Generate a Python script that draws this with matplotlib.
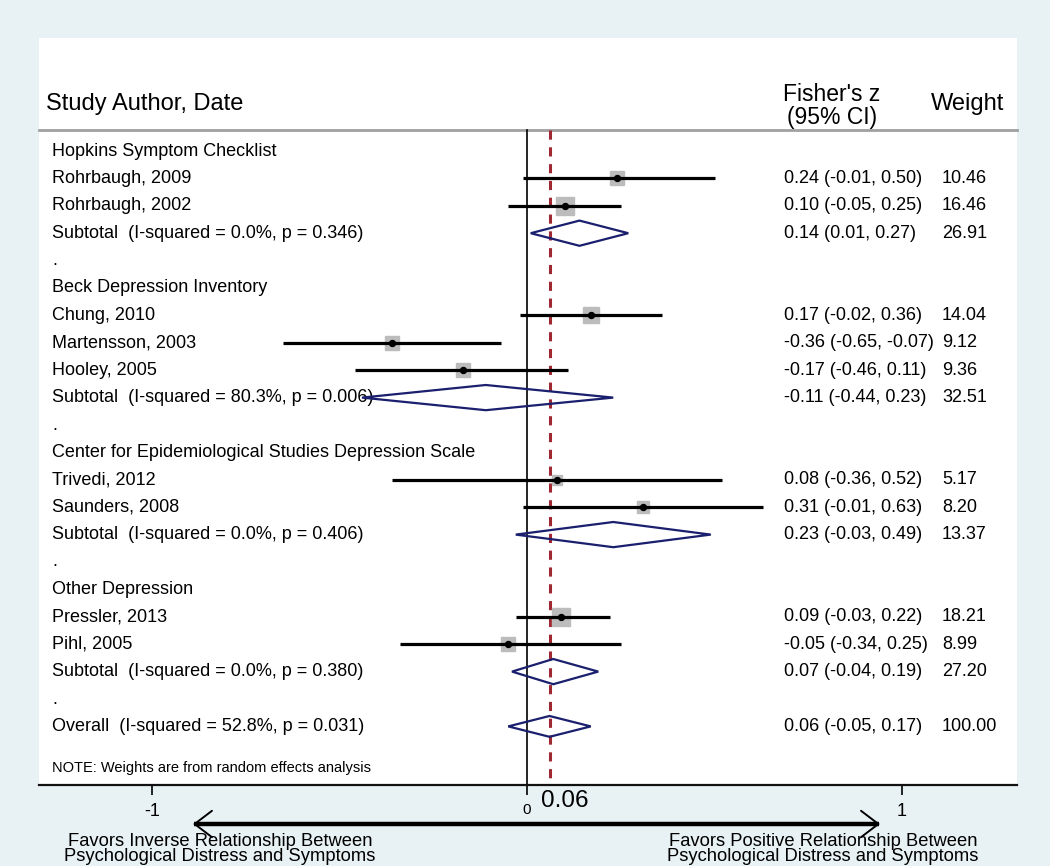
import numpy as np
import matplotlib.pyplot as plt
from matplotlib.patches import Polygon

plt.rcParams['font.family'] = ['Liberation Sans', 'DejaVu Sans']

# rows of the forest plot, top to bottom
labels = ['Hopkins Symptom Checklist', 'Rohrbaugh, 2009', 'Rohrbaugh, 2002',
          'Subtotal  (I-squared = 0.0%, p = 0.346)', '.',
          'Beck Depression Inventory', 'Chung, 2010', 'Martensson, 2003', 'Hooley, 2005',
          'Subtotal  (I-squared = 80.3%, p = 0.006)', '.',
          'Center for Epidemiological Studies Depression Scale', 'Trivedi, 2012', 'Saunders, 2008',
          'Subtotal  (I-squared = 0.0%, p = 0.406)', '.',
          'Other Depression', 'Pressler, 2013', 'Pihl, 2005',
          'Subtotal  (I-squared = 0.0%, p = 0.380)', '.',
          'Overall  (I-squared = 52.8%, p = 0.031)']
kinds = ['head', 'study', 'study', 'sub', 'blank',
         'head', 'study', 'study', 'study', 'sub', 'blank',
         'head', 'study', 'study', 'sub', 'blank',
         'head', 'study', 'study', 'sub', 'blank',
         'sub']
est = [None, 0.24, 0.10, 0.14, None,
       None, 0.17, -0.36, -0.17, -0.11, None,
       None, 0.08, 0.31, 0.23, None,
       None, 0.09, -0.05, 0.07, None,
       0.06]
lo = [None, -0.01, -0.05, 0.01, None,
      None, -0.02, -0.65, -0.46, -0.44, None,
      None, -0.36, -0.01, -0.03, None,
      None, -0.03, -0.34, -0.04, None,
      -0.05]
hi = [None, 0.50, 0.25, 0.27, None,
      None, 0.36, -0.07, 0.11, 0.23, None,
      None, 0.52, 0.63, 0.49, None,
      None, 0.22, 0.25, 0.19, None,
      0.17]
weight = [None, 10.46, 16.46, 26.91, None,
          None, 14.04, 9.12, 9.36, 32.51, None,
          None, 5.17, 8.20, 13.37, None,
          None, 18.21, 8.99, 27.20, None,
          100.00]
overall = 0.06

bg = '#e8f1f3'
fig = plt.figure(figsize=(10.5, 8.66), dpi=100, facecolor=bg)
W, H = 1050, 866
left, right, top, bottom = 39, 1017, 38, 785
ax = fig.add_axes([left / W, 1 - bottom / H, (right - left) / W, (bottom - top) / H])
ax.set_facecolor('white')

# x: data units (375 px per unit, 0 at px 527); y: row index (27.4 px per row, row 0 at px 151)
def px2x(p):
    return (p - 527) / 375.0

def px2y(p):
    return (p - 151) / 27.4

ax.set_xlim(px2x(left), px2x(right))
ax.set_ylim(px2y(bottom), px2y(top))
for s in ['top', 'left', 'right']:
    ax.spines[s].set_visible(False)
ax.spines['bottom'].set_linewidth(1.6)
ax.spines['bottom'].set_color('#111111')
ax.set_yticks([])
ax.set_xticks([-1, 0, 1])
ax.set_xticklabels(['-1', '0', '1'])
ax.tick_params(axis='x', length=7, width=1.2, pad=6, labelsize=13)
ax.get_xticklabels()[1].set_fontsize(11)

hline_y = px2y(130)
ax.plot([px2x(left), px2x(right)], [hline_y, hline_y], color='#a0a0a0', lw=2, clip_on=False)
ax.plot([0, 0], [hline_y, px2y(bottom)], color='black', lw=1.2)
ax.plot([overall, overall], [hline_y, px2y(bottom)], color='#a02833', lw=2.2, ls=(0, (3, 2.5)))

# headers
ax.text(px2x(46), px2y(104), 'Study Author, Date', fontsize=17, va='center', ha='left')
ax.text(px2x(832), px2y(106), "Fisher's z\n(95% CI)", fontsize=16.5, va='center', ha='center',
        linespacing=1.0)
ax.text(px2x(968), px2y(104), 'Weight', fontsize=17, va='center', ha='center')

fs = 13
x_lab = px2x(52)
x_est = px2x(784)
x_w = px2x(942)
est_texts = []
for i, (lab, k) in enumerate(zip(labels, kinds)):
    ax.text(x_lab, i, lab, fontsize=fs, va='center', ha='left', zorder=2)
    if k == 'study':
        side = 3.2 * np.sqrt(weight[i])
        ax.plot(est[i], i, marker='s', ms=side, color='#bcbcbc', mec='#bcbcbc', zorder=3)
        ax.plot([lo[i], hi[i]], [i, i], color='black', lw=2.3, solid_capstyle='butt', zorder=4)
        ax.plot(est[i], i, marker='o', ms=4.3, color='black', zorder=5)
    elif k == 'sub':
        h = 0.46 if lab.startswith('Subtotal') else 0.38
        poly = Polygon([[lo[i], i], [est[i], i - h], [hi[i], i], [est[i], i + h]],
                       closed=True, fill=False, ec='#1a1f6e', lw=1.6, zorder=3)
        ax.add_patch(poly)
    if est[i] is not None:
        t = ax.text(x_est, i, f'{est[i]:.2f} ({lo[i]:.2f}, {hi[i]:.2f})', fontsize=fs,
                    va='center', ha='left')
        est_texts.append((i, t))

# weights: fixed column unless the estimate text runs into it
fig.canvas.draw()
inv = ax.transData.inverted()
gap = 4
for i, t in est_texts:
    bb = t.get_window_extent()
    xe = inv.transform((bb.x1 + gap, 0))[0]
    ax.text(max(x_w, xe), i, f'{weight[i]:.2f}', fontsize=fs, va='center', ha='left')

ax.text(px2x(52), px2y(768), 'NOTE: Weights are from random effects analysis', fontsize=10.5,
        va='center', ha='left')

# overall value label and direction arrow below the axis
ax.text(px2x(541), px2y(801), f'{overall:.2f}', fontsize=17.5, va='center', ha='left',
        clip_on=False)
ay = px2y(824)
ax.plot([px2x(194), px2x(879)], [ay, ay], color='black', lw=3.2, clip_on=False,
        solid_capstyle='butt')
ax.annotate('', xy=(px2x(193), ay), xytext=(px2x(880), ay), annotation_clip=False,
            arrowprops=dict(arrowstyle='<->,head_length=1.25,head_width=0.95', lw=1.4,
                            color='black', shrinkA=0, shrinkB=0))
ax.text(px2x(220), px2y(849), 'Favors Inverse Relationship Between\nPsychological Distress and Symptoms',
        fontsize=13.2, va='center', ha='center', linespacing=0.9, clip_on=False)
ax.text(px2x(823), px2y(849), 'Favors Positive Relationship Between\nPsychological Distress and Symptoms',
        fontsize=13.2, va='center', ha='center', linespacing=0.9, clip_on=False)

fig.savefig('out.png', dpi=100, facecolor=bg)
